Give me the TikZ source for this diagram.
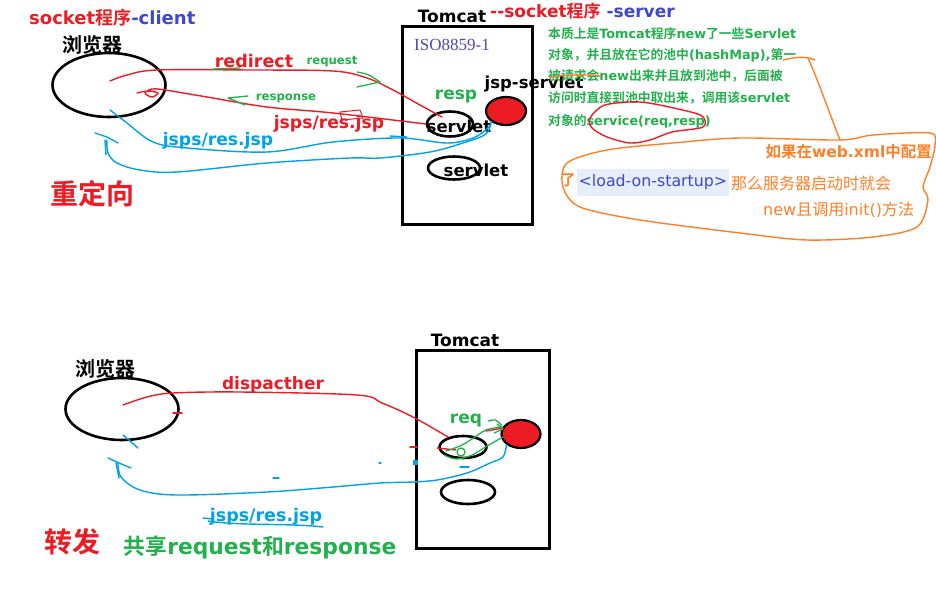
\documentclass[tikz,border=0pt]{standalone}
\usepackage{fontspec}
\setmainfont{DejaVu Sans}
\newfontfamily\cjk{Noto Sans CJK SC}[BoldFont={* Bold}]
\newfontfamily\serifx{Liberation Serif}
\usetikzlibrary{shapes.geometric}
\definecolor{pred}{HTML}{ED1C24}
\definecolor{pind}{HTML}{3F48CC}
\definecolor{pgreen}{HTML}{22B14C}
\definecolor{pcyan}{HTML}{00A2E8}
\definecolor{porange}{HTML}{FF7F27}
\definecolor{piso}{HTML}{4B4BB0}
\definecolor{lbbg}{HTML}{E6EEF9}
\begin{document}
\begin{tikzpicture}[x=1pt,y=-1pt,
  lbl/.style={inner sep=0pt, font=\bfseries\fontsize{#1}{#1}\selectfont},
  lbl/.default=17,
  ell/.style={ellipse, draw=black, line width=2.6pt, inner sep=0pt},
  box/.style={draw=black, line width=2.6pt, inner sep=0pt, anchor=north west},
  rl/.style={draw=pred, line width=1.4pt, line cap=round, line join=round},
  bl/.style={draw=pcyan, line width=1.4pt, line cap=round, line join=round},
  gl/.style={draw=pgreen, line width=1.3pt, line cap=round, line join=round},
  ol/.style={draw=porange, line width=1.4pt, line cap=round, line join=round},
]
\fill[white] (0,0) rectangle (936,602);
\useasboundingbox (0,0) rectangle (936,602);

% ===== top part =====
\node[box, minimum width=130pt, minimum height=198pt] (tc1) at (401,25) {};
\node[ell, minimum width=113pt, minimum height=64pt] (b1) at (109,85) {};
\node[ell, fill=pred, line width=2.2pt, minimum width=40pt, minimum height=28pt] (c1) at (506,111) {};
\node[ell, minimum width=46pt, minimum height=25pt] (s1) at (450,124) {};
\node[ell, minimum width=52pt, minimum height=23pt] (s2) at (454,168) {};

\node[lbl=18, anchor=west] (tclient) at (29,18) {\textcolor{pred}{socket{\cjk 程序}}\textcolor{pind}{-client}};
\node[lbl=20] (tbr1) at (92,45) {\cjk 浏览器};
\node[lbl=17] (ttom1) at (452,16) {Tomcat};
\node[lbl=17, anchor=west] (tserv) at (490,11) {\textcolor{pred}{{-}{-}socket{\cjk 程序}}\ \textcolor{pind}{-server}};
\node[font=\serifx\fontsize{17}{17}\selectfont, text=piso, inner sep=0pt] (tiso) at (452,45) {ISO8859-1};
\node[lbl=17, text=pgreen] (tresp) at (456,97) {resp};
\node[lbl=16.5] (tjsp) at (534,84) {jsp-servlet};
\node[lbl=16.5] (tsv1) at (459,126) {servlet};
\node[lbl=16.5] (tsv2) at (476,170) {servlet};

\node[lbl=12.8, text=pgreen, anchor=west] (g1) at (548,34) {{\cjk 本质上是}Tomcat{\cjk 程序}new{\cjk 了一些}Servlet};
\node[lbl=12.8, text=pgreen, anchor=west] (g2) at (548,55) {{\cjk 对象，并且放在它的池中}(hashMap),{\cjk 第一}};
\node[lbl=12.8, text=pgreen, anchor=west] (g3) at (548,76) {{\cjk 被请求会}new{\cjk 出来并且放到池中，后面被}};
\node[lbl=12.8, text=pgreen, anchor=west] (g4) at (548,98) {{\cjk 访问时直接到池中取出来，调用该}servlet};
\node[lbl=12.8, text=pgreen, anchor=west] (g5) at (548,121) {{\cjk 对象的}service(req,resp)};

\node[lbl=15.5, text=porange, anchor=east] (tweb) at (932,152) {{\cjk 如果在}web.xml{\cjk 中配置}};
\node[lbl=15, text=porange] (tle) at (568,180) {\cjk 了};
\node[fill=lbbg, text=pind, font=\fontsize{15.8}{15.8}\selectfont, inner xsep=1.5pt, inner ysep=0pt, minimum height=27pt, anchor=west] (tload) at (577,182) {<load-on-startup>};
\node[font=\cjk\fontsize{16}{16}\selectfont, text=porange, anchor=west, inner sep=0pt] (tnm) at (731,183) {那么服务器启动时就会};
\node[font=\fontsize{16}{16}\selectfont, text=porange, anchor=west, inner sep=0pt] (tnew) at (763,210) {new{\cjk 且调用}init(){\cjk 方法}};

\node[lbl=28, text=pred] (tcd) at (92,194) {\cjk 重定向};
\node[lbl=17.5, text=pred] (tredir) at (254,61) {redirect};
\node[lbl=11.7, text=pgreen] (treq) at (332,62) {request};
\node[lbl=11.7, text=pgreen] (tres) at (286,98) {response};
\node[lbl=17.2, text=pred] (tjr) at (329,124) {jsps/res.jsp};
\node[lbl=17.2, text=pcyan] (tjb) at (218,141) {jsps/res.jsp};

% red redirect
\coordinate (ra) at (110,81);
\coordinate (rz) at (442,117);
\draw[rl] plot[smooth, tension=0.55] coordinates {(ra) (127,75) (157,70) (250,70) (333,71) (367,78) (393,90) (420,105) (rz)};
% red return
\coordinate (rb) at (137,93);
\draw[rl] plot[smooth, tension=0.55] coordinates {(s1.west) (333,113) (267,107) (207,97) (165,90) (152,89) (145,93) (152,97) (158,93) (148,91) (rb)};
% green arrow ticks
\draw[gl] (357,72) .. controls (368,74) .. (380,82) -- (357,87);
\draw[gl] (212,69) -- (240,68);
\draw[gl] (248,96) -- (228,98) -- (245,105);
% red scribble box
\draw[rl, line width=1pt] (340,112) -- (360,110) -- (363,118) -- (342,120) -- cycle;

% blue lines
\coordinate (ba) at (110,110);
\coordinate (bb) at (107,140);
\draw[bl] plot[smooth, tension=0.55] coordinates {(ba) (127,123) (153,142) (187,148) (267,152) (333,142) (400,138) (447,143) (473,138) (488,128) (c1.south west)};
\draw[bl] plot[smooth, tension=0.55] coordinates {(c1.south west) (486,134) (463,143) (430,152) (380,158) (350,158) (267,163) (177,172) (140,170) (117,163) (108,153) (bb)};
\draw[bl] (95,133) -- (107,137) -- (118,143);
\draw[bl] (105,140) -- (106,155);
\draw[bl] (390,136) -- (407,137);

% orange annotations
\draw[ol] (783,60) .. controls (795,57) and (805,56) .. (815,60);
\draw[ol] (808,58) .. controls (818,80) and (830,115) .. (840,140);
\draw[ol] (550,77) .. controls (565,75) and (585,74) .. (600,76);
\draw[ol] plot[smooth cycle, tension=0.5] coordinates {(840,140) (873,135) (930,133) (935,145) (930,167) (923,187) (928,200) (917,227) (873,237) (807,240) (740,233) (640,220) (580,207) (563,187) (567,163) (607,150) (673,143) (740,138)};
% red loop around service(...)
\draw[rl] plot[smooth cycle, tension=0.5] coordinates {(590,118) (605,105) (640,102) (678,109) (702,116) (703,127) (672,132) (650,140) (630,143) (607,137) (592,128)};

% ===== bottom part =====
\node[box, minimum width=133pt, minimum height=198pt] (tc2) at (415,349) {};
\node[ell, minimum width=113pt, minimum height=62pt] (b2) at (122,409) {};
\node[ell, fill=pred, line width=2.2pt, minimum width=39pt, minimum height=28pt] (c2) at (521,434) {};
\node[ell, minimum width=47pt, minimum height=22pt] (s3) at (463,447) {};
\node[ell, minimum width=54pt, minimum height=24pt] (s4) at (468,492) {};

\node[lbl=17] (ttom2) at (465,340) {Tomcat};
\node[lbl=20] (tbr2) at (105,369) {\cjk 浏览器};
\node[lbl=17, text=pred] (tdisp) at (273,385) {dispacther};
\node[lbl=17, text=pgreen] (treq2) at (466,421) {req};
\node[lbl=17.5, text=pcyan] (tjb2) at (266,517) {jsps/res.jsp};
\node[lbl=28, text=pred] (tzf) at (72,542) {\cjk 转发};
\node[lbl=21.8, text=pgreen] (tshare) at (260,547) {{\cjk 共享}request{\cjk 和}response};

% red dispatch line
\coordinate (da) at (123,405);
\draw[rl] plot[smooth, tension=0.55] coordinates {(da) (147,397) (173,393) (240,392) (357,395) (382,403) (413,417) (448,437)};
\draw[rl] (173,413) -- (182,413);
\draw[rl] (410,447) -- (417,447);
\draw[rl] (437,448) -- (456,450);
\draw[rl] (486,431) -- (503,428);
% green scribbles
\draw[gl] plot[smooth, tension=0.6] coordinates {(446,451) (460,446) (472,439) (486,430) (502,427)};
\draw[gl] plot[smooth, tension=0.6] coordinates {(444,455) (456,459) (472,455) (487,446) (503,437)};
\draw[gl] (461,452) circle[radius=4pt];
\draw[gl] (488,421) .. controls (496,419) .. (502,426);
\draw[gl] (494,433) -- (503,429) -- (497,424);

% blue return
\coordinate (bc) at (118,462);
\draw[bl] plot[smooth, tension=0.55] coordinates {(c2.south west) (503,457) (490,463) (467,473) (437,480) (413,482) (380,483) (333,487) (267,492) (177,495) (140,490) (121,477) (bc)};
\draw[bl] (108,458) -- (119,463) -- (131,468);
\draw[bl] (116,463) -- (119,478);
\draw[bl] (123,435) -- (138,448);
\draw[bl] (460,467) -- (469,467);
\draw[bl] (273,478) -- (279,478);
\draw[bl] (379,463) -- (381,463);
\fill[pcyan] (413,460) rectangle (418,465);
\draw[bl] (208,521) .. controls (240,526) and (290,523) .. (323,527);
\draw[bl] (203,518) -- (213,519);
\end{tikzpicture}
\end{document}
